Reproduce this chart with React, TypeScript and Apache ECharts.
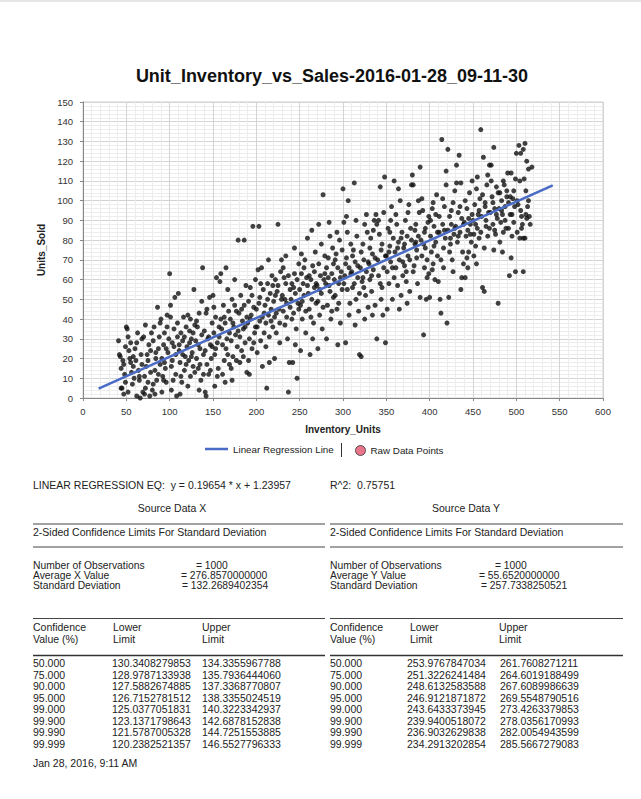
import React, { useEffect, useRef } from "react";
import * as echarts from "echarts";

// ---- Data (Inventory_Units, Units_Sold) ----
const pointsA: [number, number][] = [
  [41,29],[42,22],[43,21],[44,5],[45,5],[46,19],[47,17],[48,12],[49,8],[44,15],[47,2],[49,26],
  [50,36],[51,35],[52,31],[53,24],[54,20],[55,18],[56,13],[57,7],[58,16],[59,10],[52,3],[55,28],[58,21],
  [60,25],[61,19],[62,1],[63,33],[64,14],[65,9],[66,0],[67,22],[68,17],[69,3],[62,28],[65,11],[68,30],
  [70,31],[71,2],[72,37],[73,16],[74,22],[75,8],[76,27],[77,1],[78,13],[79,33],[72,5],[75,19],[78,24],[71,11],
  [80,4],[81,29],[82,36],[83,14],[84,20],[85,9],[86,46],[87,25],[88,31],[89,17],[81,7],[84,23],[87,12],[89,38],[83,2],
  [90,40],[91,20],[92,11],[93,27],[94,33],[95,15],[96,8],[97,42],[98,23],[99,30],[91,3],[94,18],[97,36],[93,9],[96,25],
];
const pointsB: [number, number][] = [
  [100,63],[101,41],[102,16],[103,28],[104,9],[105,35],[106,51],[107,22],[108,1],[109,31],[101,47],[103,19],[105,26],[107,12],[109,38],[102,4],
  [110,53],[111,24],[112,18],[113,33],[114,8],[115,29],[116,41],[117,14],[118,21],[119,36],[111,27],[113,11],[115,22],[117,31],[119,17],[112,2],
  [120,26],[121,42],[122,19],[123,34],[124,11],[125,30],[126,23],[127,16],[128,55],[129,37],[121,6],[123,28],[125,21],[127,33],[129,13],[124,40],
  [130,29],[131,20],[132,36],[133,15],[134,43],[135,25],[136,9],[137,32],[138,66],[139,22],[131,39],[133,27],[135,17],[137,49],[139,12],[134,4],
  [140,34],[141,24],[142,43],[143,17],[144,30],[145,12],[146,51],[147,27],[148,20],[149,38],[141,3],[143,45],[145,31],[147,14],[149,26],[142,1],
  [150,52],[151,33],[152,22],[153,41],[154,61],[155,28],[156,15],[157,36],[158,59],[159,63],[151,46],[153,25],[155,11],[157,31],[159,40],[152,6],
  [160,35],[161,27],[162,47],[163,19],[164,38],[165,66],[166,30],[167,22],[168,44],[169,33],[161,12],[163,41],[165,25],[167,55],[169,17],[164,8],
  [170,40],[171,29],[172,50],[173,21],[174,36],[175,60],[176,32],[177,44],[178,26],[179,80],[171,15],[173,38],[175,47],[177,19],[179,34],[172,9],
  [180,43],[181,31],[182,52],[183,24],[184,39],[185,35],[186,47],[187,28],[188,57],[189,41],[181,18],[183,45],[185,21],[187,36],[189,13],[186,80],
  [190,38],[191,49],[192,30],[193,56],[194,42],[195,25],[196,87],[197,46],[198,33],[199,60],[191,19],[193,40],[195,52],[197,28],[199,36],[192,12],
];
const pointsC: [number, number][] = [
  [200,45],[201,36],[202,65],[203,87],[204,51],[205,29],[206,66],[207,41],[208,55],[209,33],[201,23],[203,48],[205,58],[207,16],[209,43],[204,39],
  [210,47],[211,38],[212,5],[213,58],[214,42],[215,31],[216,53],[217,45],[218,62],[219,36],[211,26],[213,50],[215,18],[217,39],[219,57],[214,70],
  [220,49],[221,41],[222,60],[223,33],[224,54],[225,88],[226,45],[227,28],[228,64],[229,50],[221,20],[223,43],[225,57],[227,38],[229,70],[222,52],
  [230,52],[231,44],[232,61],[233,37],[234,58],[235,48],[236,30],[237,3],[238,18],[239,55],[231,66],[233,50],[235,41],[237,62],[239,46],[234,72],
  [240,50],[241,58],[242,18],[243,43],[244,63],[245,53],[246,35],[247,10],[248,48],[249,68],[241,40],[243,56],[245,27],[247,60],[249,45],[244,76],
  [250,55],[251,47],[252,63],[253,40],[254,58],[255,52],[256,70],[257,33],[258,61],[259,81],[251,24],[253,49],[255,66],[257,44],[259,57],[252,73],
  [260,53],[261,45],[262,22],[263,60],[264,50],[265,67],[266,38],[267,56],[268,74],[269,48],[261,62],[263,41],[265,30],[267,64],[269,58],[264,85],
  [270,57],[271,49],[272,68],[273,42],[274,62],[275,53],[276,35],[277,103],[278,60],[279,72],[271,25],[273,55],[275,78],[277,46],[279,63],[272,88],
  [280,58],[281,66],[282,47],[283,71],[284,89],[285,54],[286,40],[287,63],[288,76],[289,51],[281,30],[283,61],[285,82],[287,44],[289,68],[284,57],
  [290,60],[291,52],[292,73],[293,45],[294,66],[295,58],[296,80],[297,38],[298,64],[299,55],[291,70],[293,84],[295,48],[297,61],[299,75],[294,27],
];
const pointsD: [number, number][] = [
  [300,106],[301,89],[302,62],[303,28],[304,71],[305,55],[306,100],[307,66],[308,48],[309,78],[301,58],[303,68],[305,84],[307,42],[309,63],[304,92],
  [310,64],[311,56],[312,75],[313,109],[314,69],[315,50],[316,82],[317,61],[318,44],[319,22],[311,72],[313,58],[315,90],[317,67],[319,53],[314,37],
  [320,66],[321,21],[322,59],[323,78],[324,70],[325,88],[326,52],[327,64],[328,84],[329,46],[321,74],[323,61],[325,40],[327,93],[329,69],[324,56],
  [330,68],[331,60],[332,81],[333,54],[334,73],[335,65],[336,90],[337,47],[338,93],[339,30],[331,76],[333,62],[335,85],[337,71],[339,88],[334,42],
  [340,70],[341,62],[342,83],[343,107],[344,75],[345,56],[346,42],[347,66],[348,112],[349,28],[341,90],[343,58],[345,78],[347,94],[349,72],[344,50],
  [350,72],[351,64],[352,86],[353,58],[354,77],[355,69],[356,97],[357,50],[358,81],[359,110],[351,45],[353,74],[355,90],[357,66],[359,61],[354,84],
  [360,74],[361,66],[362,88],[363,57],[364,79],[365,70],[366,100],[367,52],[368,84],[369,62],[361,93],[363,76],[365,45],[367,81],[369,69],[364,106],
  [370,76],[371,67],[372,90],[373,59],[374,82],[375,72],[376,98],[377,54],[378,86],[379,108],[371,78],[373,64],[375,94],[377,70],[379,80],[374,48],
  [380,113],[381,108],[382,67],[383,78],[384,88],[385,71],[386,58],[387,82],[388,94],[389,117],[381,64],[383,85],[385,75],[387,100],[389,51],[384,79],
  [390,80],[391,72],[392,95],[393,32],[394,84],[395,76],[396,50],[397,61],[398,89],[399,63],[391,101],[393,78],[395,86],[397,70],[399,92],[394,66],
];
const pointsE: [number, number][] = [
  [400,51],[401,82],[402,74],[403,96],[404,68],[405,87],[406,60],[407,79],[408,103],[409,84],[401,90],[403,65],[405,77],[407,93],[409,72],[404,99],
  [410,59],[411,84],[412,50],[413,43],[414,131],[415,88],[416,76],[417,97],[418,81],[419,115],[411,92],[413,70],[415,101],[417,85],[419,108],[416,66],
  [420,38],[421,85],[422,51],[423,92],[424,78],[425,88],[426,70],[427,99],[428,83],[429,105],[421,126],[423,74],[425,95],[427,64],[429,86],[424,81],
  [430,87],[431,118],[432,79],[433,94],[434,123],[435,84],[436,55],[437,91],[438,74],[439,68],[431,109],[433,82],[435,97],[437,61],[439,88],[436,109],
  [440,89],[441,61],[442,82],[443,96],[444,85],[445,74],[446,104],[447,88],[448,79],[449,93],[441,100],[443,71],[445,91],[447,83],[449,110],[444,66],
  [450,90],[451,83],[452,98],[453,77],[454,106],[455,86],[456,93],[457,81],[458,101],[459,136],[451,72],[453,88],[455,112],[457,95],[459,84],[454,68],
  [460,92],[461,56],[462,122],[463,54],[464,99],[465,87],[466,108],[467,82],[468,94],[469,118],[461,103],[463,76],[465,90],[467,113],[469,86],[464,97],
  [470,94],[471,118],[472,102],[473,88],[474,127],[475,96],[476,83],[477,107],[478,91],[479,48],[471,110],[473,99],[475,85],[477,93],[479,104],[474,75],
  [480,96],[481,104],[482,89],[483,100],[484,93],[485,84],[486,108],[487,97],[488,86],[489,102],[481,79],[483,95],[485,110],[487,90],[489,105],[484,74],
  [490,114],[491,99],[492,62],[493,102],[494,71],[495,93],[496,101],[497,89],[498,97],[499,111],[491,86],[493,93],[494,114],[497,105],[499,64],[495,82],
  [500,124],[501,84],[502,98],[503,128],[504,81],[505,124],[506,92],[507,88],[508,126],[509,111],[501,100],[504,110],[505,95],[508,81],[508,64],[506,86],
  [510,129],[510,81],[511,93],[512,120],[512,91],[513,97],[514,116],[515,92],[516,88],[518,117],[511,105],[514,100],
];

const regressionSlope = 0.19654;
const regressionIntercept = 1.23957;
const regressionXRange = [18, 542];
const rSquared = "0.75751";

const confidenceLevels = ["50.000", "75.000", "90.000", "95.000", "99.000", "99.900", "99.990", "99.999"];
const xLowerLimits = ["130.3408279853", "128.9787133938", "127.5882674885", "126.7152781512", "125.0377051831", "123.1371798643", "121.5787005328", "120.2382521357"];
const xUpperLimits = ["134.3355967788", "135.7936444060", "137.3368770807", "138.3355024519", "140.3223342937", "142.6878152838", "144.7251553885", "146.5527796333"];
const yLowerLimits = ["253.9767847034", "251.3226241484", "248.6132583588", "246.9121871872", "243.6433373945", "239.9400518072", "236.9032629838", "234.2913202854"];
const yUpperLimits = ["261.7608271211", "264.6019188499", "267.6089986639", "269.5548790516", "273.4263379853", "278.0356170993", "282.0054943599", "285.5667279083"];

const FONT = "'Liberation Sans', Arial, Helvetica, sans-serif";
const TEXT_COLOR = "#222";

function txt(text: string, x: number, y: number, opts: any = {}) {
  const fs = opts.fontSize || 10.5;
  return {
    type: "text",
    x,
    y,
    silent: true,
    style: {
      text,
      fill: opts.fill || TEXT_COLOR,
      fontSize: fs,
      lineHeight: opts.lineHeight || fs,
      fontFamily: FONT,
      fontWeight: opts.fontWeight || "normal",
      align: opts.align || "left",
      verticalAlign: "middle",
    },
  };
}

function hline(x1: number, x2: number, y: number, w = 1, color = "#444") {
  return {
    type: "line",
    silent: true,
    shape: { x1, y1: y, x2, y2: y },
    style: { stroke: color, lineWidth: w },
  };
}

export default function App() {
  const ref = useRef<HTMLDivElement>(null);

  useEffect(() => {
    if (!ref.current) return;
    const chart = echarts.init(ref.current, undefined, { renderer: "svg" });
    const rawPoints = [...pointsA, ...pointsB, ...pointsC, ...pointsD, ...pointsE];
    const regression = regressionXRange.map((x) => [x, regressionSlope * x + regressionIntercept]);

    const rowYs = [663, 674.5, 686, 697.5, 709, 720.5, 732, 743.5];
    const st = { fontSize: 10.3, lineHeight: 9.5 };
    const graphics: any[] = [
      { type: "rect", silent: true, shape: { x: 0, y: 0, width: 641, height: 2 }, style: { fill: "#e6e6e6" } },
      // legend separator
      { type: "line", silent: true, shape: { x1: 341.5, y1: 443, x2: 341.5, y2: 457 }, style: { stroke: "#333", lineWidth: 1 } },
      txt(`LINEAR REGRESSION EQ:  y = ${regressionSlope} * x + ${regressionIntercept}`, 33, 484.5),
      txt(`R^2:  ${rSquared}`, 330, 484.5),
      txt("Source Data X", 172, 507.5, { align: "center" }),
      txt("Source Data Y", 466, 507.5, { align: "center" }),
      hline(33, 325, 524),
      hline(330, 623, 524),
      txt("2-Sided Confidence Limits For Standard Deviation", 33, 532),
      txt("2-Sided Confidence Limits For Standard Deviation", 330, 532),
      hline(33, 325, 547),
      hline(330, 623, 547),
      txt("Number of Observations", 33, 565.5, st),
      txt("Average X Value", 33, 575.5, st),
      txt("Standard Deviation", 33, 585.5, st),
      txt("= 1000", 196, 565.5, st),
      txt("= 276.8570000000", 181, 575.5, st),
      txt("= 132.2689402354", 182, 585.5, st),
      txt("Number of Observations", 330, 565.5, st),
      txt("Average Y Value", 330, 575.5, st),
      txt("Standard Deviation", 330, 585.5, st),
      txt("= 1000", 495, 565.5, st),
      txt("= 55.6520000000", 479, 575.5, st),
      txt("= 257.7338250521", 481, 585.5, st),
      hline(33, 325, 618.5),
      hline(330, 623, 618.5),
      txt("Confidence", 33, 627),
      txt("Value (%)", 33, 638.5),
      txt("Lower", 113, 627),
      txt("Limit", 113, 638.5),
      txt("Upper", 202, 627),
      txt("Limit", 202, 638.5),
      txt("Confidence", 330, 627),
      txt("Value (%)", 330, 638.5),
      txt("Lower", 410, 627),
      txt("Limit", 410, 638.5),
      txt("Upper", 499, 627),
      txt("Limit", 499, 638.5),
      hline(33, 325, 655.5, 1.5, "#333"),
      hline(330, 623, 655.5, 1.5, "#333"),
      txt("Jan 28, 2016, 9:11 AM", 33, 763),
    ];
    confidenceLevels.forEach((c, i) => {
      const y = rowYs[i];
      graphics.push(txt(c, 33, y));
      graphics.push(txt(xLowerLimits[i], 112, y));
      graphics.push(txt(xUpperLimits[i], 202, y));
      graphics.push(txt(c, 330, y));
      graphics.push(txt(yLowerLimits[i], 407, y));
      graphics.push(txt(yUpperLimits[i], 500, y));
    });

    const axisCommon = {
      axisLine: { show: true, lineStyle: { color: "#888", width: 1 } },
      axisTick: { show: true, length: 3, lineStyle: { color: "#888" } },
      splitLine: { show: true, lineStyle: { color: "#d4d4d4", width: 1 } },
      minorTick: { show: false, splitNumber: 5 },
      minorSplitLine: { show: true, lineStyle: { color: "#ececec", width: 1 } },
      nameTextStyle: { fontFamily: FONT, fontWeight: "bold", fontSize: 10, color: "#222" },
    };

    chart.setOption({
      animation: false,
      backgroundColor: "#ffffff",
      textStyle: { fontFamily: FONT },
      title: {
        text: "Unit_Inventory_vs_Sales-2016-01-28_09-11-30",
        left: 327,
        textAlign: "center",
        top: 62,
        textStyle: { fontFamily: FONT, fontSize: 18, fontWeight: "bold", color: "#111" },
      },
      grid: {
        left: 83,
        right: 38,
        top: 102,
        bottom: 401,
        show: true,
        borderColor: "#cfcfcf",
        borderWidth: 1,
        backgroundColor: "#fff",
      },
      legend: [
        {
          data: [{ name: "Linear Regression Line", icon: "rect" }],
          left: 205,
          top: 444,
          padding: 0,
          itemWidth: 23,
          itemHeight: 2.5,
          itemGap: 5,
          textStyle: { fontFamily: FONT, fontSize: 9.8, color: "#222" },
          selectedMode: false,
        },
        {
          data: [
            {
              name: "Raw Data Points",
              icon: "circle",
              itemStyle: { color: "#e2536b", borderColor: "#333", borderWidth: 1 },
            },
          ],
          left: 355,
          top: 445,
          padding: 0,
          itemWidth: 10,
          itemHeight: 10,
          textStyle: { fontFamily: FONT, fontSize: 9.8, color: "#222" },
          selectedMode: false,
        },
      ],
      xAxis: {
        type: "value",
        min: 0,
        max: 600,
        interval: 50,
        offset: 4,
        name: "Inventory_Units",
        nameLocation: "middle",
        nameGap: 22,
        axisLabel: { fontFamily: FONT, fontSize: 9.5, color: "#333", margin: 4 },
        ...axisCommon,
      },
      yAxis: {
        type: "value",
        min: 0,
        max: 150,
        interval: 10,
        offset: 4,
        name: "Units_Sold",
        nameLocation: "middle",
        nameGap: 33,
        axisLabel: { fontFamily: FONT, fontSize: 9.5, color: "#333", margin: 6 },
        ...axisCommon,
      },
      series: [
        {
          name: "Raw Data Points",
          type: "scatter",
          data: rawPoints,
          symbol: "circle",
          symbolSize: 5,
          itemStyle: { color: "#111" },
          z: 2,
        },
        {
          name: "Linear Regression Line",
          type: "line",
          data: regression,
          symbol: "none",
          lineStyle: { color: "#4a6bc6", width: 2.5 },
          itemStyle: { color: "#4a6bc6" },
          z: 3,
        },
      ],
      graphic: graphics,
    });

    return () => chart.dispose();
  }, []);

  return (
    <div
      ref={ref}
      style={{ position: "fixed", left: 0, top: 0, width: 641, height: 799, background: "#fff" }}
    />
  );
}
